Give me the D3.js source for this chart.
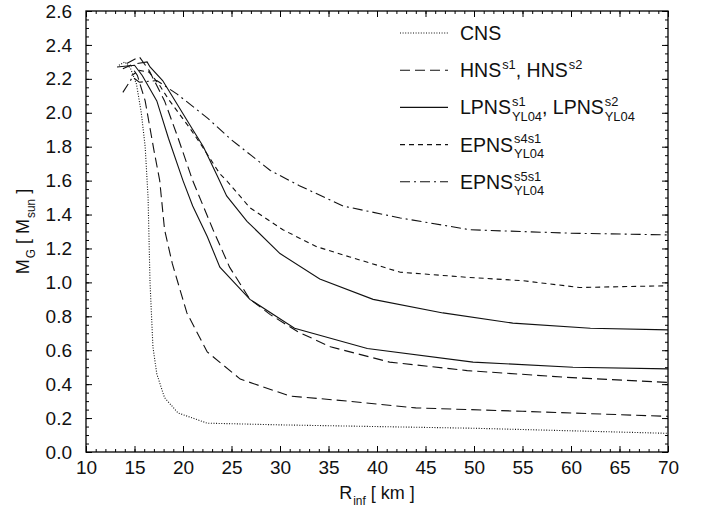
<!DOCTYPE html>
<html>
<head>
<meta charset="utf-8">
<script src="https://cdn.jsdelivr.net/npm/d3@7"></script>
<style>
  body { margin: 0; background: #fff; }
  svg { display: block; font-family: "Liberation Sans", Arial, sans-serif; }
</style>
</head>
<body>
<main></main>
<script>
// mass-radius curves (R in km, M in solar masses)
var cnsR = [13.4, 14.0, 14.6, 15.2, 15.7, 16.1, 16.4, 16.6, 16.9, 17.3, 18.1, 19.5, 22.5, 30, 40, 50, 60, 70];
var cnsM = [2.28, 2.30, 2.26, 2.17, 2.00, 1.80, 1.50, 1.00, 0.62, 0.46, 0.32, 0.23, 0.17, 0.16, 0.15, 0.14, 0.125, 0.11];

var hns1R = [13.8, 14.6, 15.3, 16.1, 17.0, 17.6, 18.1, 18.9, 20.4, 22.5, 25.9, 31, 37, 44, 55, 70];
var hns1M = [2.26, 2.28, 2.22, 2.07, 1.78, 1.60, 1.31, 1.11, 0.82, 0.59, 0.43, 0.33, 0.30, 0.26, 0.24, 0.21];

var hns2R = [14.2, 15.5, 16.5, 18.1, 19.5, 21.0, 23.1, 24.8, 26.9, 29.0, 31.8, 35.2, 41.3, 49.3, 59.6, 70];
var hns2M = [2.29, 2.33, 2.25, 2.07, 1.85, 1.60, 1.31, 1.09, 0.90, 0.81, 0.71, 0.62, 0.53, 0.48, 0.44, 0.41];

var lp1R = [13.2, 15.0, 15.8, 17.3, 18.5, 20.0, 21.0, 22.5, 23.8, 26.9, 31.5, 39.0, 49.9, 60.2, 70];
var lp1M = [2.27, 2.28, 2.22, 2.07, 1.85, 1.60, 1.45, 1.27, 1.09, 0.90, 0.73, 0.61, 0.53, 0.50, 0.49];

var lp2R = [15.3, 16.3, 16.6, 17.9, 19.4, 20.9, 22.1, 23.6, 24.5, 26.6, 30.0, 34.1, 39.6, 46.8, 54.0, 62, 70];
var lp2M = [2.29, 2.30, 2.27, 2.19, 2.05, 1.91, 1.80, 1.62, 1.51, 1.36, 1.17, 1.02, 0.90, 0.82, 0.76, 0.73, 0.72];

var ep4R = [14.7, 15.5, 16.5, 17.5, 18.5, 20.7, 22.0, 23.8, 24.5, 26.9, 30.3, 33.8, 37.2, 42.4, 49.3, 55, 60.9, 70];
var ep4M = [2.22, 2.25, 2.24, 2.17, 2.08, 1.91, 1.80, 1.64, 1.60, 1.44, 1.31, 1.21, 1.15, 1.06, 1.03, 1.01, 0.97, 0.98];

var ep5R = [13.8, 14.8, 15.5, 17.3, 19.4, 22.5, 25.0, 27.0, 29.0, 32.0, 36.5, 42.4, 49.6, 60, 70];
var ep5M = [2.12, 2.21, 2.18, 2.19, 2.11, 1.97, 1.84, 1.75, 1.66, 1.57, 1.45, 1.38, 1.31, 1.29, 1.28];

var xTicks = [10, 15, 20, 25, 30, 35, 40, 45, 50, 55, 60, 65, 70];
var yTicks = [0, 0.2, 0.4, 0.6, 0.8, 1.0, 1.2, 1.4, 1.6, 1.8, 2.0, 2.2, 2.4, 2.6];

var dashes = {dot: "1,1.6", long: "10,5", solid: null, short: "5,4", dashdot: "10,4,2,4"};

var series = [
    {r: cnsR, m: cnsM, dash: dashes.dot},
    {r: hns1R, m: hns1M, dash: dashes.long},
    {r: hns2R, m: hns2M, dash: dashes.long},
    {r: lp1R, m: lp1M, dash: dashes.solid},
    {r: lp2R, m: lp2M, dash: dashes.solid},
    {r: ep4R, m: ep4M, dash: dashes.short},
    {r: ep5R, m: ep5M, dash: dashes.dashdot}
];

var sp = "\u00a0";
var legend = [
    {dash: dashes.dot, parts: [["CNS"]]},
    {dash: dashes.long, parts: [["HNS", "s1"], ["," + sp + "HNS", "s2"]]},
    {dash: dashes.solid, parts: [["LPNS", "s1", "YL04"], ["," + sp + "LPNS", "s2", "YL04"]]},
    {dash: dashes.short, parts: [["EPNS", "s4s1", "YL04"]]},
    {dash: dashes.dashdot, parts: [["EPNS", "s5s1", "YL04"]]}
];

var W = 702, H = 514,
    margin = {top: 11, right: 34, bottom: 62, left: 86};

var svg = d3.select("main").append("svg")
    .attr("width", W)
    .attr("height", H);

var x = d3.scaleLinear().domain([10, 70]).range([margin.left, W - margin.right]),
    y = d3.scaleLinear().domain([0, 2.6]).range([H - margin.bottom, margin.top]);

var fs = 19;

// minor ticks, all four sides, pointing inward
var xMinor = d3.range(10, 70.01, 1),
    yMinor = d3.range(0, 2.601, 0.05);

function axisLayer(axis, tx, ty, labels) {
    var g = svg.append("g")
        .attr("transform", "translate(" + tx + "," + ty + ")")
        .call(axis);
    g.select(".domain").remove();
    g.selectAll("line").attr("stroke", "#000");
    if (!labels) g.selectAll("text").remove();
    else g.selectAll("text").attr("font-size", fs).attr("fill", "#111").attr("font-family", null);
    return g;
}

var x0 = x.range()[0], x1 = x.range()[1], y0 = y.range()[0], y1 = y.range()[1];

axisLayer(d3.axisBottom(x).tickValues(xMinor).tickSize(-3).tickFormat(""), 0, y0, false);
axisLayer(d3.axisTop(x).tickValues(xMinor).tickSize(-3).tickFormat(""), 0, y1, false);
axisLayer(d3.axisLeft(y).tickValues(yMinor).tickSize(-3).tickFormat(""), x0, 0, false);
axisLayer(d3.axisRight(y).tickValues(yMinor).tickSize(-3).tickFormat(""), x1, 0, false);

axisLayer(d3.axisBottom(x).tickValues(xTicks).tickSize(-6).tickPadding(9).tickFormat(d3.format("d")), 0, y0, true);
axisLayer(d3.axisTop(x).tickValues(xTicks).tickSize(-6).tickFormat(""), 0, y1, false);
axisLayer(d3.axisLeft(y).tickValues(yTicks).tickSize(-6).tickPadding(14).tickFormat(d3.format(".1f")), x0, 0, true);
axisLayer(d3.axisRight(y).tickValues(yTicks).tickSize(-6).tickFormat(""), x1, 0, false);

svg.append("rect")
    .attr("x", x0).attr("y", y1)
    .attr("width", x1 - x0).attr("height", y0 - y1)
    .attr("fill", "none").attr("stroke", "#000").attr("stroke-width", 1.3);

// curves
var line = d3.line()
    .x(function (d) { return x(d[0]); })
    .y(function (d) { return y(d[1]); });

svg.append("g").selectAll("path")
    .data(series)
    .join("path")
    .attr("d", function (s) { return line(d3.zip(s.r, s.m)); })
    .attr("fill", "none")
    .attr("stroke", "#111")
    .attr("stroke-width", 1.1)
    .attr("stroke-dasharray", function (s) { return s.dash; });

// text with stacked super/subscripts
function richText(g, tx, ty, parts, size) {
    var cx = tx;
    parts.forEach(function (p) {
        var t = g.append("text").attr("x", cx).attr("y", ty)
            .attr("font-size", size).attr("fill", "#111").text(p[0]);
        cx += t.node().getComputedTextLength();
        var w = 0;
        if (p[1]) {
            var s = g.append("text").attr("x", cx + 1).attr("y", ty - size * 0.42)
                .attr("font-size", size * 0.66).attr("fill", "#111").text(p[1]);
            w = Math.max(w, s.node().getComputedTextLength() + 1);
        }
        if (p[2]) {
            var b = g.append("text").attr("x", cx + 1).attr("y", ty + size * 0.33)
                .attr("font-size", size * 0.66).attr("fill", "#111").text(p[2]);
            w = Math.max(w, b.node().getComputedTextLength() + 1);
        }
        cx += w;
    });
    return cx - tx;
}

var lg = svg.append("g");
legend.forEach(function (d, i) {
    var ly = 33 + i * 37.2;
    lg.append("line")
        .attr("x1", 400).attr("x2", 448)
        .attr("y1", ly).attr("y2", ly)
        .attr("stroke", "#111").attr("stroke-width", 1.1)
        .attr("stroke-dasharray", d.dash);
    richText(lg, 460, ly + 7, d.parts, 19.5);
});

// axis titles
var xt = svg.append("g");
var xw = richText(xt, 0, 0, [["R", null, "inf"], [sp + "[" + sp + "km" + sp + "]"]], 18);
xt.attr("transform", "translate(" + ((x0 + x1) / 2 - xw / 2) + "," + (H - 15) + ")");

var yt = svg.append("g");
var yw = richText(yt, 0, 0, [["M", null, "G"], [sp + "[" + sp + "M", null, "sun"], [sp + "]"]], 18);
yt.attr("transform", "translate(29," + ((y0 + y1) / 2 + yw / 2) + ") rotate(-90)");
</script>
</body>
</html>
